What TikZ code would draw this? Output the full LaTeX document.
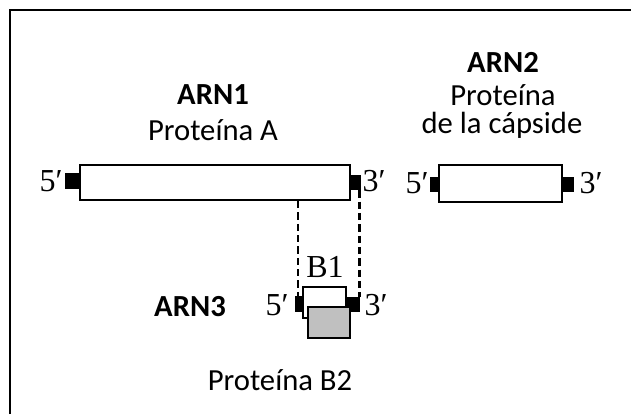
\documentclass[tikz,border=0pt]{standalone}
\usepackage{fontspec}
\setmainfont{Liberation Serif}
\setsansfont{Carlito}
\usepackage{xcolor}
\usepackage{tikz}
\usetikzlibrary{positioning,calc}
\definecolor{capgray}{RGB}{192,192,192}

\begin{document}
\begin{tikzpicture}[
  x=0.75pt, y=-0.75pt,
  font=\sffamily\fontsize{23}{25}\selectfont,
  rna/.style={draw, rectangle, fill=white, inner sep=0pt, line width=1.7pt},
  endcap/.style={fill=black, rectangle, inner sep=0pt},
  prime/.style={font=\rmfamily\fontsize{24}{26}\selectfont},
  tag/.style={font=\sffamily\bfseries\fontsize{23}{25}\selectfont},
  link/.style={line width=1.8pt, dash pattern=on 5.5pt off 3pt},
]
\useasboundingbox (0,0) rectangle (631,414);
\draw[line width=2pt] (10,414) |- (631,10);
% ARN1
\node[rna, minimum width=202.5pt, minimum height=26.25pt] (arn1) at (215,182.5) {};
\node[endcap, minimum width=10.5pt, minimum height=12pt, anchor=east] (lcap1) at (arn1.west |- 0,181) {};
\node[endcap, minimum width=7.5pt, minimum height=11.25pt, anchor=west] (rcap1) at (arn1.east |- 0,182.5) {};
\node[prime] (five1) at (51,181) {5′};
\node[prime] (three1) at (374,181) {3′};
\node[tag] (lab1) at (213,95) {ARN1};
\node (prot1) at (213,130) {Proteína A};
% ARN2
\node[rna, minimum width=92.25pt, minimum height=27.75pt] (arn2) at (500.5,183.5) {};
\node[endcap, minimum width=6pt, minimum height=11.25pt, anchor=east] (lcap2) at (arn2.west |- 0,184.5) {};
\node[endcap, minimum width=8.25pt, minimum height=11.25pt, anchor=west] (rcap2) at (arn2.east |- 0,184.5) {};
\node[prime] (five2) at (417,183) {5′};
\node[prime] (three2) at (591,183) {3′};
\node[tag] (lab2) at (503,62) {ARN2};
\node (prot2) at (503,95) {Proteína};
\node (prot2b) at (502,125) {de la cápside};
% ARN3
\node[rna, minimum width=32.25pt, minimum height=23.25pt] (arn3) at (324.5,302.5) {};
\node[endcap, minimum width=5.25pt, minimum height=12pt, anchor=east] (lcap3) at (arn3.west |- 0,304) {};
\node[endcap, minimum width=9.75pt, minimum height=11.25pt, anchor=west] (rcap3) at (arn3.east |- 0,304.5) {};
\node[rna, fill=capgray, minimum width=31.5pt, minimum height=23.25pt] (b2) at (329,322.5) {};
\node[prime] (b1) at (325,267) {B1};
\node[prime] (five3) at (277,305) {5′};
\node[prime] (three3) at (376,305) {3′};
\node[tag] (lab3) at (190,307) {ARN3};
\node (prot3) at (280,380) {Proteína B2};
% projections
\draw[link] (lcap3.north |- arn1.south) -- (lcap3.north);
\draw[link] ([xshift=-1.5pt]rcap1.south east) -- ([xshift=-1.5pt]rcap1.south east |- rcap3.north);
\end{tikzpicture}
\end{document}
